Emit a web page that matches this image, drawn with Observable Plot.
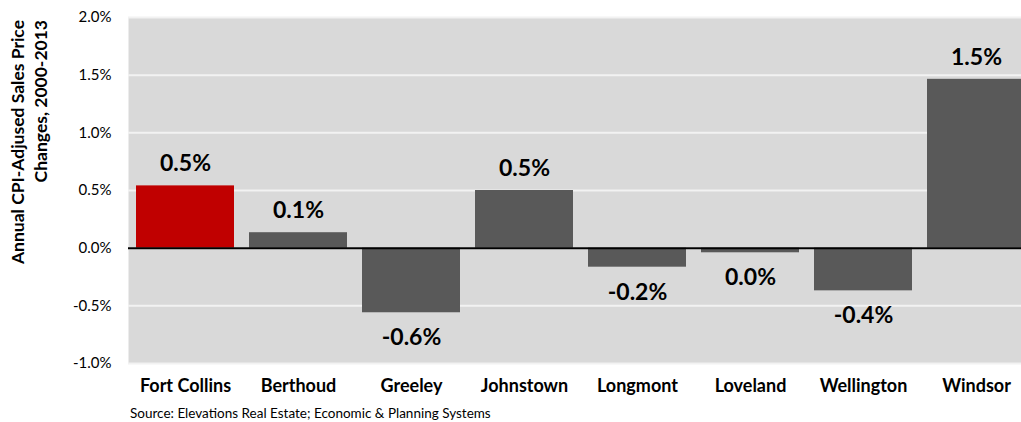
<!DOCTYPE html>
<html>
<head>
<meta charset="utf-8">
<script src="https://cdn.jsdelivr.net/npm/d3@7"></script>
<script src="https://cdn.jsdelivr.net/npm/@observablehq/plot@0.6"></script>
<style>
  html, body { margin: 0; background: white; font-family: Lato, sans-serif; overflow: hidden; }
  #chart svg { overflow: hidden; }
  #caption { font-size: 13.5px; color: #000; margin-left: 130px; margin-top: 5px; }
</style>
</head>
<body>
<div id="chart"></div>
<div id="caption">Source: Elevations Real Estate; Economic &amp; Planning Systems</div>
<script>
const cities = ["Fort Collins", "Berthoud", "Greeley", "Johnstown", "Longmont", "Loveland", "Wellington", "Windsor"];
const values = [0.0054, 0.00134, -0.0056, 0.0050, -0.00165, -0.0004, -0.0037, 0.01464];
const highlightCity = "Fort Collins";
const yTicks = [-0.01, -0.005, 0, 0.005, 0.01, 0.015, 0.02];
const yTitle = ["Annual CPI-Adjused Sales Price", "Changes, 2000-2013"];

const locale = d3.formatLocale({decimal: ".", thousands: ",", grouping: [3], currency: ["$", ""], minus: "-", percent: "%"});
const pct = locale.format(".1%");

const data = cities.map((c, i) => ({city: c, value: values[i]}));
const pos = data.filter(d => d.value >= 0);
const neg = data.filter(d => d.value < 0);

const chart = Plot.plot({
  width: 1021,
  height: 400,
  marginLeft: 128,
  marginRight: -13,
  marginTop: 17,
  marginBottom: 37,
  style: {fontFamily: "Lato, sans-serif", background: "white", color: "black", overflow: "hidden"},
  x: {domain: cities, paddingInner: 0.129, paddingOuter: 0.07, label: null},
  y: {domain: [-0.01, 0.02], label: null},
  marks: [
    Plot.frame({fill: "#d9d9d9", stroke: null}),
    Plot.gridY(yTicks, {stroke: "#f2f2f2", strokeOpacity: 1, strokeWidth: 2}),
    Plot.barY(data, {x: "city", y: "value", fill: d => d.city === highlightCity ? "#c00000" : "#595959"}),
    Plot.ruleY([0], {stroke: "black", strokeWidth: 2}),
    Plot.axisY({ticks: yTicks, tickFormat: pct, tickSize: 0, tickPadding: 17, fontSize: 15, label: null}),
    Plot.axisX({tickSize: 0, tickPadding: 16, fontSize: 18, fontWeight: "bold", label: null}),
    Plot.text(pos, {x: "city", y: "value", text: d => pct(d.value), dy: -22, fontSize: 23, fontWeight: "bold", fill: "black"}),
    Plot.text(neg, {x: "city", y: "value", text: d => pct(d.value), dy: 25, fontSize: 23, fontWeight: "bold", fill: "black"})
  ]
});

const svg = d3.select(chart);
svg.append("text")
  .attr("transform", "translate(23.5,20) rotate(-90)")
  .attr("text-anchor", "end")
  .attr("font-size", 17.5).attr("font-weight", "bold").attr("font-family", "Lato, sans-serif")
  .text(yTitle[0]);
svg.append("text")
  .attr("transform", "translate(47,20) rotate(-90)")
  .attr("text-anchor", "end")
  .attr("font-size", 17.5).attr("font-weight", "bold").attr("font-family", "Lato, sans-serif")
  .text(yTitle[1]);

document.getElementById("chart").appendChild(chart);
</script>
</body>
</html>
